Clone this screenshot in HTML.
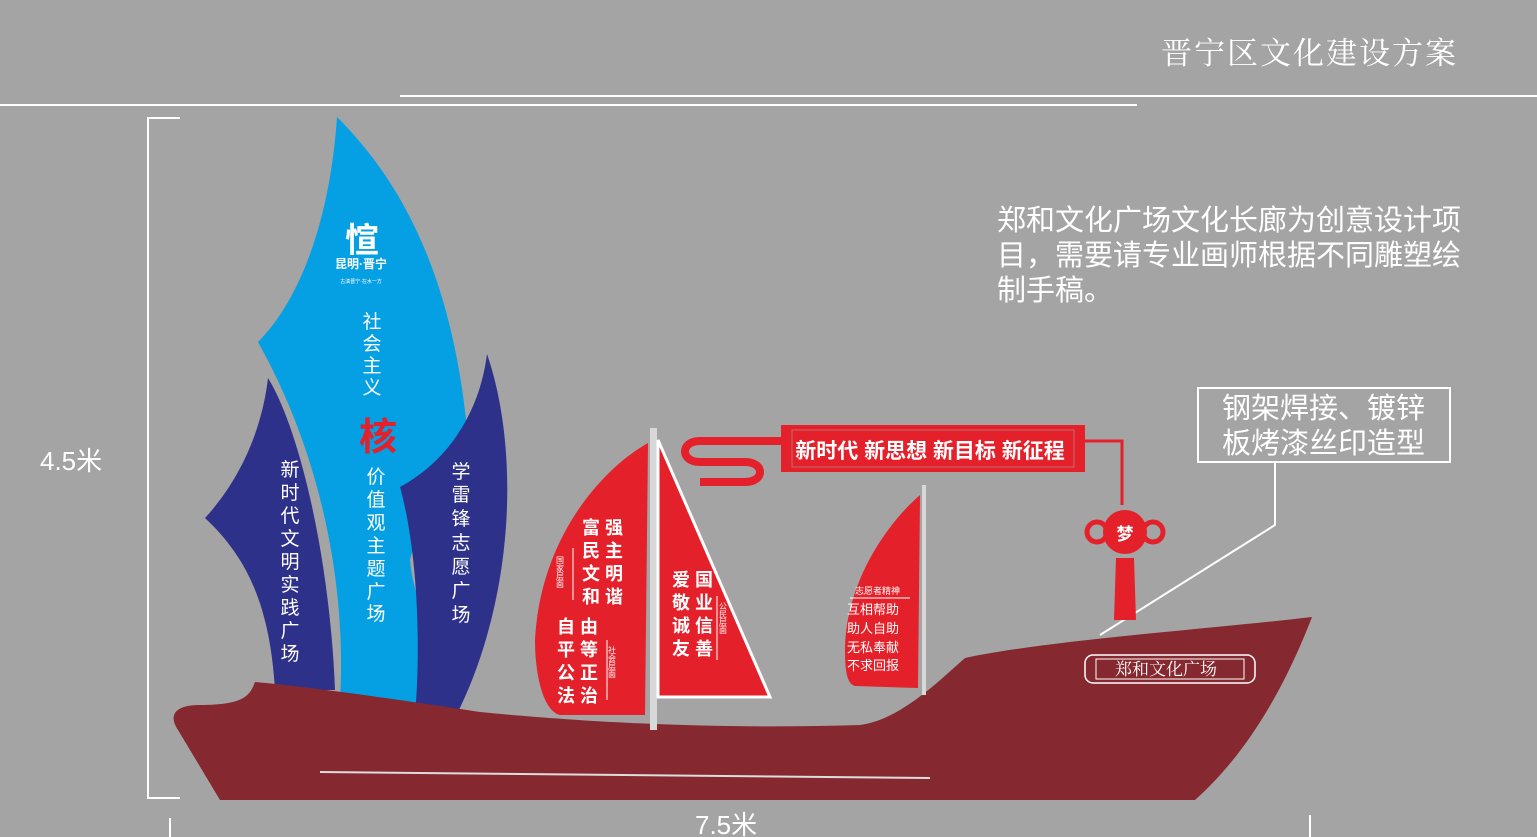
<!DOCTYPE html>
<html><head><meta charset="utf-8"><style>
html,body{margin:0;padding:0;background:#a4a4a4;}
svg{display:block}
text{font-family:"Liberation Sans","Noto Sans CJK SC",sans-serif;}
</style></head><body>
<svg width="1537" height="837" viewBox="0 0 1537 837" xmlns="http://www.w3.org/2000/svg">
<rect width="1537" height="837" fill="#a4a4a4"/>
<text x="1458" y="64" text-anchor="end" font-size="31" fill="#fff" style="font-family:'Noto Serif CJK SC',serif" letter-spacing="2">晋宁区文化建设方案</text>
<line x1="0" y1="105" x2="1137" y2="105" stroke="#fff" stroke-width="2"/>
<line x1="400" y1="96" x2="1537" y2="96" stroke="#fff" stroke-width="2"/>
<!-- dimension -->
<path d="M180 118 H148 V798 H180" fill="none" stroke="#fff" stroke-width="2"/>
<text x="40" y="470" font-size="26" fill="#fff">4.5米</text>
<line x1="170" y1="818" x2="170" y2="837" stroke="#fff" stroke-width="2"/>
<line x1="1310" y1="815" x2="1310" y2="837" stroke="#fff" stroke-width="2"/>
<text x="695" y="834" font-size="26" fill="#fff">7.5米</text>
<!-- right text -->
<text font-size="29" fill="#fff"><tspan x="997" y="230">郑和文化广场文化长廊为创意设计项</tspan><tspan x="997" y="265">目，需要请专业画师根据不同雕塑绘</tspan><tspan x="997" y="300">制手稿。</tspan></text>
<rect x="1198" y="388" width="252" height="74" fill="none" stroke="#fff" stroke-width="2"/>
<text font-size="29" fill="#fff"><tspan x="1222" y="418">钢架焊接、镀锌</tspan><tspan x="1222" y="453">板烤漆丝印造型</tspan></text>
<path d="M1275 462 V525 L1100 635" fill="none" stroke="#fff" stroke-width="2"/>
<!-- blue sails -->
<path d="M268 378 C300 430 330 560 335 690 L275 690 C270 610 250 560 205 518 C240 480 262 430 268 378Z" fill="#2e318a"/>
<path d="M337 117 C400 180 460 280 470 470 C440 510 420 520 410 560 C415 620 460 680 460 705 L340 700 C345 620 335 480 258 342 C300 300 330 220 337 117Z" fill="#05a0e3"/>
<path d="M487 354 C520 450 515 600 455 718 L415 715 C420 660 420 560 400 487 C450 460 480 410 487 354Z" fill="#2e318a"/>
<!-- hull -->
<path d="M255 682 C250 695 245 705 200 705 C175 705 168 715 178 730 L220 800 L1195 800 C1240 760 1280 700 1312 617 C1200 630 1050 640 965 658 C940 680 900 720 860 725 C700 730 560 720 480 712 C400 700 320 688 255 682Z" fill="#862830"/>
<path d="M320 772 L930 778" stroke="#ddd" stroke-width="2"/>
<!-- logo -->
<text x="362" y="252" font-size="34" fill="#fff" text-anchor="middle" font-weight="bold">愃</text>
<text x="361" y="268" font-size="12" fill="#fff" text-anchor="middle" font-weight="bold">昆明·晋宁</text>
<text x="361" y="283" font-size="5" fill="#fff" text-anchor="middle">古滇晋宁·在水一方</text>
<g font-size="19" fill="#fff" text-anchor="middle">
<text x="372" y="328">社</text><text x="372" y="350">会</text><text x="372" y="372">主</text><text x="372" y="394">义</text>
<text x="376" y="483">价</text><text x="376" y="506">值</text><text x="376" y="529">观</text><text x="376" y="552">主</text><text x="376" y="575">题</text><text x="376" y="598">广</text><text x="376" y="620">场</text>
<text x="290" y="476">新</text><text x="290" y="499">时</text><text x="290" y="522">代</text><text x="290" y="545">文</text><text x="290" y="568">明</text><text x="290" y="591">实</text><text x="290" y="614">践</text><text x="290" y="637">广</text><text x="290" y="660">场</text>
<text x="461" y="478">学</text><text x="461" y="501">雷</text><text x="461" y="525">锋</text><text x="461" y="549">志</text><text x="461" y="573">愿</text><text x="461" y="597">广</text><text x="461" y="621">场</text>
</g>
<text x="378" y="450" font-size="38" fill="#e4202a" text-anchor="middle" font-weight="bold">核</text>
<!-- red sails -->
<path d="M648 443 C600 470 540 540 535 640 C535 680 545 712 560 715 L645 715 Z" fill="#e4202a"/>
<rect x="650" y="428" width="7" height="302" fill="#d8d8d8"/>
<path d="M658 440 L770 697 L658 697Z" fill="#e4202a" stroke="#fff" stroke-width="3"/>
<g font-size="18" fill="#fff" font-weight="bold">
<text x="582" y="534">富 强</text><text x="582" y="557">民 主</text><text x="582" y="580">文 明</text><text x="582" y="603">和 谐</text>
<text x="557" y="633">自 由</text><text x="557" y="656">平 等</text><text x="557" y="679">公 正</text><text x="557" y="702">法 治</text>
<text x="672" y="586">爱 国</text><text x="672" y="609">敬 业</text><text x="672" y="632">诚 信</text><text x="672" y="655">友 善</text>
</g>
<g font-size="8" fill="#fff">
<text x="560" y="556" writing-mode="tb">国家层面</text><text x="612" y="646" writing-mode="tb">社会层面</text><text x="723" y="602" writing-mode="tb">公民层面</text>
</g>
<line x1="573" y1="548" x2="573" y2="600" stroke="#fff"/><line x1="607" y1="640" x2="607" y2="700" stroke="#fff"/><line x1="717" y1="596" x2="717" y2="660" stroke="#fff"/>
<!-- small sail -->
<rect x="922" y="485" width="4" height="210" fill="#d8d8d8"/>
<path d="M920 495 C880 530 845 590 845 650 C845 675 848 684 855 686 L918 688 Z" fill="#e4202a"/>
<text x="855" y="594" font-size="9" fill="#fff">志愿者精神</text>
<line x1="850" y1="598" x2="910" y2="598" stroke="#fff"/>
<g font-size="13" fill="#fff"><text x="847" y="614">互相帮助</text><text x="847" y="633">助人自助</text><text x="847" y="652">无私奉献</text><text x="847" y="670">不求回报</text></g>
<!-- banner -->
<path d="M781 441 H700 C680 441 680 462 700 462 H745 C765 462 765 482 745 482 H700" fill="none" stroke="#e4202a" stroke-width="8"/>
<rect x="781" y="425" width="304" height="47" fill="#e4202a"/>
<rect x="792" y="430" width="282" height="37" fill="none" stroke="#a4a4a4" stroke-width="1" opacity="0.6"/>
<text x="930" y="458" font-size="21" fill="#fff" font-weight="bold" text-anchor="middle">新时代 新思想 新目标 新征程</text>
<path d="M1085 441 H1122 V505" fill="none" stroke="#e4202a" stroke-width="3"/>
<circle cx="1125" cy="532" r="22" fill="#e4202a"/>
<circle cx="1097" cy="532" r="10" fill="none" stroke="#e4202a" stroke-width="5"/>
<circle cx="1153" cy="532" r="10" fill="none" stroke="#e4202a" stroke-width="5"/>
<text x="1125" y="540" font-size="17" fill="#fff" font-weight="bold" text-anchor="middle">梦</text>
<path d="M1116 558 H1134 L1136 620 H1114Z" fill="#e4202a"/>
<!-- plaque -->
<rect x="1085" y="655" width="170" height="28" rx="8" fill="none" stroke="#fff" stroke-width="1.5"/>
<rect x="1096" y="659" width="148" height="20" fill="none" stroke="#fff" stroke-width="1"/>
<text x="1166" y="675" font-size="17" fill="#fff" text-anchor="middle" style="font-family:'Noto Serif CJK SC',serif">郑和文化广场</text>
</svg>
</body></html>
